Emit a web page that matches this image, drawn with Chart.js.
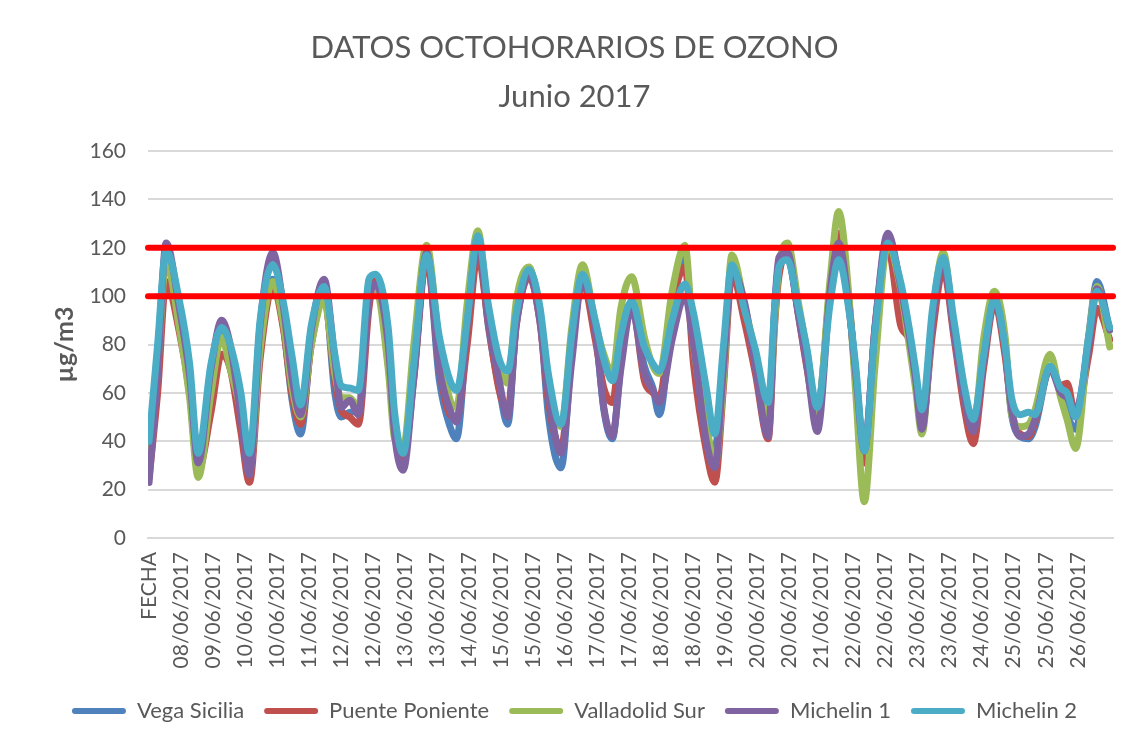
<!DOCTYPE html>
<html>
<head>
<meta charset="utf-8">
<script src="https://cdn.jsdelivr.net/npm/chart.js@4/dist/chart.umd.min.js"></script>
<style>
  html, body { margin: 0; padding: 0; background: #ffffff; }
  #wrap { width: 1134px; height: 742px; }
</style>
</head>
<body>
<div id="wrap"><canvas id="c" width="1134" height="742"></canvas></div>
<script>
// ---- Data ----
// hour index along the category axis (first category = "FECHA")
const hours = [0,4,8,14,19,23,29,34,38,43,47,52,58,63,67,71,76,82,87,90,94,98,103,106,112,115,119,124,130,136,141,144,149,154,159,164,168,172,178,183,187,193,198,203,209,213,217,221,226,232,236,239,245,251,255,261,265,269,273,279,284,290,293,295,299,304,308,313,319,323,328,331,335,340,346,352,356,359,362,367,372,377,382,386,391,396,401,404,408,412,415,422,427,430,434,440,444,450];

const vegaSicilia    = [35,76,117,93,66,33,68,86,76,52,30,86,107,87,57,43,82,102,60,50,52,53,100,105,76,46,34,68,117,65,46,41,86,122,87,62,47,90,110,93,51,29,78,106,87,53,41,72,97,71,62,51,93,117,78,43,37,72,112,92,74,45,93,114,116,94,75,53,102,120,95,68,37,86,124,104,85,67,46,90,115,87,58,46,76,99,77,51,42,41,46,70,60,51,45,83,106,86];
const puentePoniente = [25,60,106,86,60,28,52,76,70,44,23,74,104,86,59,47,80,100,65,53,50,47,95,108,72,45,32,66,115,70,51,50,80,117,88,61,53,88,108,90,57,37,78,106,82,62,56,83,97,65,60,58,96,112,72,36,23,62,109,89,68,41,88,108,118,93,71,49,104,126,96,65,31,87,120,88,82,68,47,85,111,83,53,39,71,97,75,53,43,42,48,70,63,64,50,75,95,82];
const valladolidSur  = [30,70,114,88,58,25,60,83,70,52,28,78,106,88,62,50,80,98,68,58,58,54,101,104,70,41,37,80,121,80,57,54,97,127,92,71,64,98,112,92,65,46,87,113,89,76,68,95,108,83,71,68,102,121,80,48,30,65,117,96,76,48,90,112,122,98,78,52,107,135,98,60,15,71,121,103,80,62,43,92,118,86,58,45,83,102,83,51,46,47,53,76,58,49,37,82,104,79];
const michelin1      = [23,68,122,96,67,31,70,90,80,50,26,88,118,95,66,51,86,107,74,54,57,51,98,105,80,43,28,66,118,70,53,48,88,123,89,65,50,88,109,90,60,35,73,107,86,54,42,70,95,68,61,56,82,100,80,40,29,70,111,97,71,42,95,116,118,93,72,44,102,122,94,68,36,87,126,104,84,66,45,90,114,85,57,44,74,98,78,53,42,43,49,70,60,58,53,79,103,86];
const michelin2      = [40,80,119,99,72,35,72,87,80,60,35,90,113,97,75,55,88,104,76,63,62,61,107,109,87,52,35,72,117,83,65,61,90,125,96,74,69,93,111,96,68,47,84,109,90,74,65,84,98,79,72,69,90,105,93,62,43,79,113,94,78,56,95,112,115,96,79,54,97,115,93,71,36,85,122,106,87,70,53,95,116,90,62,49,76,99,79,58,51,52,51,71,62,60,50,82,102,87];

const seriesNames  = ['Vega Sicilia','Puente Poniente','Valladolid Sur','Michelin 1','Michelin 2'];
const seriesColors = ['#4F81BD','#C0504D','#9BBB59','#8064A2','#4BACC6'];
const limitValues  = [100, 120];

const tickLabels = ['FECHA','08/06/2017','09/06/2017','10/06/2017','10/06/2017','11/06/2017','12/06/2017','12/06/2017','13/06/2017','13/06/2017','14/06/2017','15/06/2017','15/06/2017','16/06/2017','17/06/2017','17/06/2017','18/06/2017','18/06/2017','19/06/2017','20/06/2017','20/06/2017','21/06/2017','22/06/2017','22/06/2017','23/06/2017','23/06/2017','24/06/2017','25/06/2017','25/06/2017','26/06/2017'];
const labelStep = 15;          // one date label every 15 hourly categories
const xMin = -0.5, xMax = 451.5;

// ---- Chart ----
const TXT = '#595959';
Chart.defaults.font.family = 'Lato, "Open Sans", sans-serif';
Chart.defaults.color = TXT;

const allSeries = [vegaSicilia, puentePoniente, valladolidSur, michelin1, michelin2];
const datasets = allSeries.map((vals, i) => ({
  label: seriesNames[i],
  data: hours.map((h, k) => ({ x: h, y: vals[k] })),
  borderColor: seriesColors[i],
  backgroundColor: seriesColors[i],
  borderWidth: 7,
  pointRadius: 0,
  cubicInterpolationMode: 'monotone',
  borderCapStyle: 'round',
  borderJoinStyle: 'round',
  order: 5 - i
}));
limitValues.forEach(v => datasets.push({
  label: 'Límite ' + v,
  data: [{ x: xMin, y: v }, { x: xMax, y: v }],
  borderColor: '#FF0000',
  backgroundColor: '#FF0000',
  borderWidth: 6,
  pointRadius: 0,
  borderCapStyle: 'round',
  clip: false,
  order: 0
}));

new Chart(document.getElementById('c'), {
  type: 'line',
  data: { datasets },
  options: {
    responsive: false,
    animation: false,
    devicePixelRatio: 1,
    layout: { padding: { left: 15, right: 0, top: 0, bottom: 10 } },
    plugins: {
      tooltip: { enabled: false },
      title: {
        display: true,
        text: ['DATOS OCTOHORARIOS DE OZONO', 'Junio 2017'],
        color: TXT,
        font: { size: 31, weight: 'normal', lineHeight: 49 / 31 },
        padding: { top: 23, bottom: 30 }
      },
      legend: {
        position: 'bottom',
        labels: {
          boxWidth: 54,
          boxHeight: 6,
          padding: 20,
          color: TXT,
          font: { size: 22 },
          useBorderRadius: true,
          borderRadius: 3,
          filter: (item) => item.datasetIndex < seriesNames.length,
          sort: (a, b) => a.datasetIndex - b.datasetIndex,
          generateLabels: (chart) => Chart.defaults.plugins.legend.labels.generateLabels(chart)
            .map(l => Object.assign(l, { lineWidth: 0, fillStyle: l.strokeStyle }))
        }
      }
    },
    scales: {
      x: {
        type: 'linear',
        min: xMin,
        max: xMax,
        grid: { display: false, drawTicks: false },
        border: { display: true, color: '#D9D9D9', width: 2 },
        afterBuildTicks: (s) => { s.ticks = tickLabels.map((_, i) => ({ value: i * labelStep })); },
        afterFit: (s) => { s.height = 142; },
        ticks: {
          autoSkip: false,
          minRotation: 90,
          maxRotation: 90,
          padding: 14,
          color: TXT,
          font: { size: 21 },
          callback: (v) => tickLabels[Math.round(v / labelStep)] ?? ''
        }
      },
      y: {
        position: 'left',
        min: 0,
        max: 160,
        afterFit: (s) => { s.width = 133; },
        ticks: { stepSize: 20, padding: 22, color: TXT, font: { size: 21 } },
        grid: { color: '#D9D9D9', lineWidth: 2, drawTicks: false },
        border: { display: false },
        title: {
          display: true,
          text: 'µg/m3',
          color: TXT,
          font: { size: 25, weight: 'bold' },
          padding: { top: 35, bottom: 0 }
        }
      },
      yRight: {
        position: 'right',
        min: 0,
        max: 160,
        afterFit: (s) => { s.width = 21; },
        ticks: { display: false },
        grid: { display: false, drawTicks: false },
        border: { display: false }
      }
    }
  }
});
</script>
</body>
</html>
